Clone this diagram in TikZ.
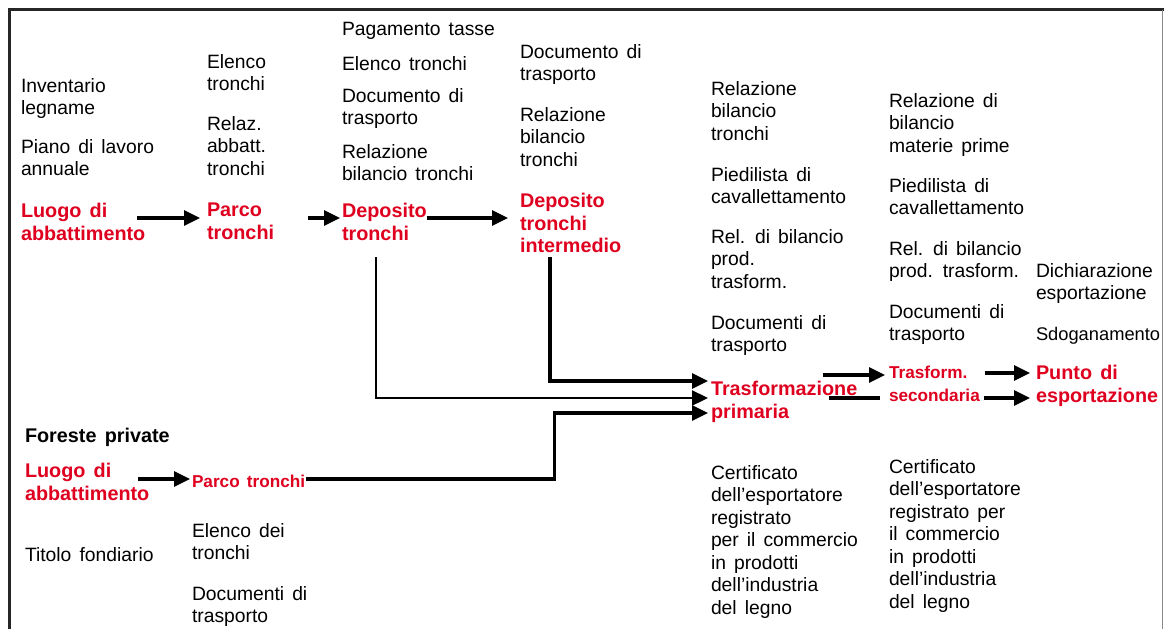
\documentclass[tikz,border=0pt]{standalone}
\usepackage{fontspec}
\setmainfont{Liberation Sans}[WordSpace={1.5,1,1}]
\usetikzlibrary{arrows.meta}
\definecolor{sitered}{RGB}{222,0,30}

\begin{document}
\begin{tikzpicture}[x=1pt,y=-1pt,
    doc/.style={anchor=north west, yshift=13.75pt, inner sep=0, outer sep=0, align=left,
        font=\fontsize{19.3}{22.5}\selectfont, execute at begin node=\strut},
    head/.style={doc, font=\fontsize{19.8}{22.5}\selectfont\bfseries},
    site/.style={head, text=sitered},
    smallsite/.style={site, font=\fontsize{17.2}{22.5}\selectfont\bfseries},
    flow/.style={line width=3.2pt, -{Triangle[length=16pt,width=15pt]}},
    thinflow/.style={flow, line width=2.3pt},
    link/.style={line width=3.2pt}]

\useasboundingbox (0,0) rectangle (1164,629);
\draw [line width=2.8pt, black!85] (9.5,629) -- (9.5,9.5) -- (1164,9.5);
\draw [line width=1pt, black!45] (1162.5,9.5) -- (1162.5,629);

\node [doc] (inventario) at (21,92) {Inventario\\legname};
\node [doc] (piano) at (21,153) {Piano di lavoro\\annuale};
\node [site] (luogoA) at (21,217) {Luogo di\\abbattimento};

\node [doc] (elencoA) at (207,68) {Elenco\\tronchi};
\node [doc] (relazA) at (207,130) {Relaz.\\abbatt.\\tronchi};
\node [site] (parcoA) at (207,217) {Parco\\tronchi};

\node [doc] (tasse) at (342,33) {Pagamento tasse};
\node [doc] (elencoB) at (342,68) {Elenco tronchi};
\node [doc] (docB) at (342,102) {Documento di\\trasporto};
\node [doc] (relB) at (342,158) {Relazione\\bilancio tronchi};
\node [site] (depA) at (342,217) {Deposito\\tronchi};

\node [doc] (docC) at (520,58) {Documento di\\trasporto};
\node [doc] (relC) at (520,121) {Relazione\\bilancio\\tronchi};
\node [site] (depB) at (520,207) {Deposito\\tronchi\\intermedio};

\node [doc] (relD) at (711,95) {Relazione\\bilancio\\tronchi};
\node [doc] (pieD) at (711,181) {Piedilista di\\cavallettamento};
\node [doc] (relbD) at (711,243) {Rel. di bilancio\\prod.\\trasform.};
\node [doc] (docD) at (711,329) {Documenti di\\trasporto};
\node [site] (trasfA) at (711,395) {Trasformazione\\primaria};
\node [doc] (certA) at (711,479) {Certificato\\dell’esportatore\\registrato\\per il commercio\\in prodotti\\dell’industria\\del legno};

\node [doc] (relE) at (889,107) {Relazione di\\bilancio\\materie prime};
\node [doc] (pieE) at (889,192) {Piedilista di\\cavallettamento};
\node [doc] (relbE) at (889,255) {Rel. di bilancio\\prod. trasform.};
\node [doc] (docE) at (889,318) {Documenti di\\trasporto};
\node [smallsite] (trasfB) at (889,380) {Trasform.\\secondaria};
\node [doc] (certB) at (889,473) {Certificato\\dell’esportatore\\registrato per\\il commercio\\in prodotti\\dell’industria\\del legno};

\node [doc] (dich) at (1036,277) {Dichiarazione\\esportazione};
\node [doc, font=\fontsize{18.3}{22.5}\selectfont] (sdog) at (1036,338) {Sdoganamento};
\node [site] (punto) at (1036,379) {Punto di\\esportazione};

\node [head] (foreste) at (25,440) {Foreste private};
\node [site] (luogoB) at (25,477) {Luogo di\\abbattimento};
\node [doc] (titolo) at (25,559) {Titolo fondiario};
\node [smallsite] (parcoB) at (192,485) {Parco tronchi};
\node [doc] (elencoC) at (192,537) {Elenco dei\\tronchi};
\node [doc] (docF) at (192,600) {Documenti di\\trasporto};

\draw [flow] ([shift={(-8,14.75)}]luogoA.north east) -- ([shift={(-7,14.75)}]parcoA.north west);
\draw [flow] ([shift={(34,14.75)}]parcoA.north east) -- ([shift={(-2,14.75)}]depA.north west);
\draw [flow] ([shift={(0,14.75)}]depA.north east) -- ([shift={(-12,24.75)}]depB.north west);

\draw [thinflow] ([shift={(34,53.75)}]depA.north west) |- ([shift={(-3,16.75)}]trasfA.north west);
\draw [flow] ([shift={(30,63.75)}]depB.north west) |- ([shift={(-3,-0.25)}]trasfA.north west);

\draw [flow] ([shift={(-11,15.75)}]luogoB.north east) -- ([shift={(-2,7.75)}]parcoB.north west);
\draw [flow] ([shift={(1,7.75)}]parcoB.north east) -- ++(248,0) |- ([shift={(-3,31.75)}]trasfA.north west);

\draw [flow] ([shift={(112,-6.25)}]trasfA.north west) -- ([shift={(-4,8.75)}]trasfB.north west);
\draw [link] ([shift={(118,16.75)}]trasfA.north west) -- ([shift={(-9,31.75)}]trasfB.north west);

\draw [flow] ([shift={(5,6.75)}]trasfB.north east) -- ([shift={(-6,7.75)}]punto.north west);
\draw [flow] ([shift={(4,31.75)}]trasfB.north east) -- ([shift={(-6,32.75)}]punto.north west);
\end{tikzpicture}
\end{document}
